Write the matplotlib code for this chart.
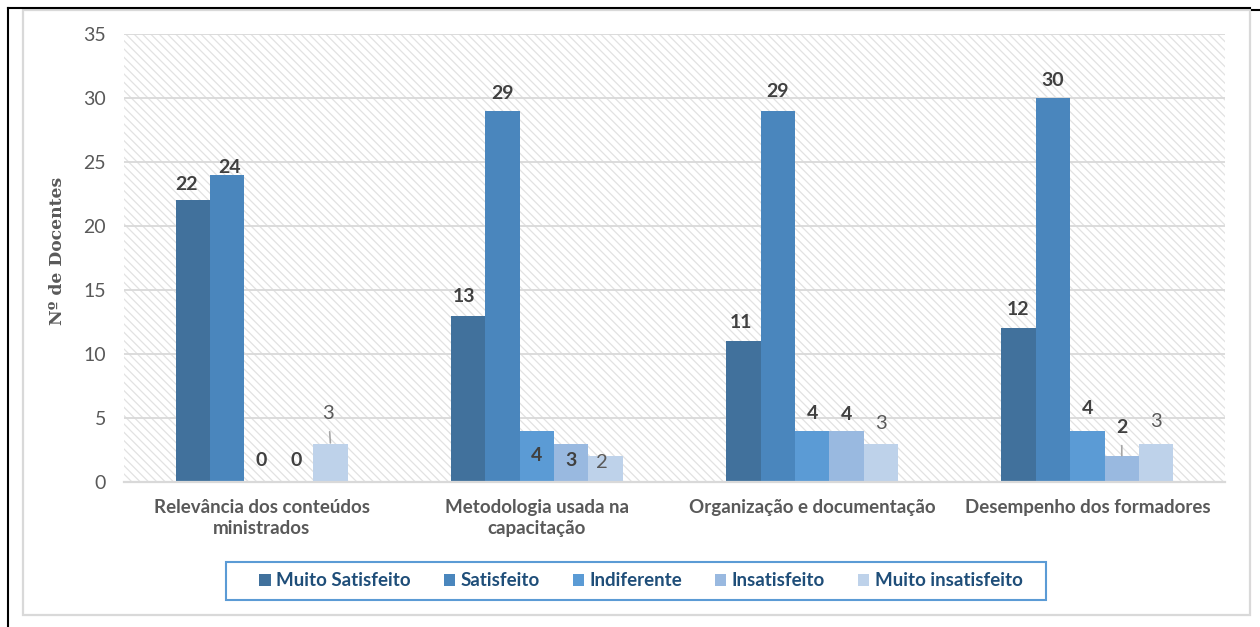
import matplotlib
matplotlib.use("Agg")
import matplotlib.pyplot as plt
from matplotlib.lines import Line2D
from matplotlib.patches import Rectangle, Patch
import numpy as np

plt.rcParams['font.family'] = ['Lato', 'DejaVu Sans']
plt.rcParams['hatch.linewidth'] = 0.9

categories = ["Relevância dos conteúdos\nministrados",
              "Metodologia usada na\ncapacitação",
              "Organização e documentação",
              "Desempenho dos formadores"]
series_names = ["Muito Satisfeito", "Satisfeito", "Indiferente",
                "Insatisfeito", "Muito insatisfeito"]
muito_satisfeito = [22, 13, 11, 12]
satisfeito = [24, 29, 29, 30]
indiferente = [0, 4, 4, 4]
insatisfeito = [0, 3, 4, 2]
muito_insatisfeito = [3, 2, 3, 3]
series_values = [muito_satisfeito, satisfeito, indiferente, insatisfeito, muito_insatisfeito]
y_ticks = [0, 5, 10, 15, 20, 25, 30, 35]

colors = ["#41719C", "#4A86BD", "#5B9BD5", "#99B9E0", "#BED2EA"]

# label placement (pixel offsets from bar top: dx, dy)
label_offsets = {
    (0, 0): (-6, 16), (0, 1): (2, 7), (0, 2): (0, 21), (0, 3): (0, 21), (0, 4): (-2, 30),
    (1, 0): (-4, 19), (1, 1): (0, 17), (1, 2): (0, -25), (1, 3): (0, -17), (1, 4): (-4, -6),
    (2, 0): (-2, 19), (2, 1): (0, 19), (2, 2): (0, 17), (2, 3): (0, 16), (2, 4): (0, 20),
    (3, 0): (-1, 19), (3, 1): (0, 18), (3, 2): (0, 22), (3, 3): (0, 29), (3, 4): (0, 22),
}
leaders = {(0, 4), (3, 3)}

W, H = 1260, 627
fig = plt.figure(figsize=(W / 100, H / 100), dpi=100)

def fx(x):
    return x / W

def fy(y):
    return 1 - y / H

# frames
fig.add_artist(Rectangle((fx(23), fy(615)), fx(1250) - fx(23), fy(10) - fy(615),
                         transform=fig.transFigure, fill=False, edgecolor="#d9d9d9", linewidth=1.6))
fig.add_artist(Line2D([fx(8), fx(1250)], [fy(8), fy(8)], transform=fig.transFigure,
                      color="black", linewidth=1.5))
fig.add_artist(Line2D([fx(8), fx(8)], [fy(8), fy(627)], transform=fig.transFigure,
                      color="black", linewidth=1.5))
fig.add_artist(Line2D([fx(1252), fx(1260)], [fy(9.5), fy(9.5)], transform=fig.transFigure,
                      color="black", linewidth=1.5))
# legend box
fig.add_artist(Rectangle((fx(226), fy(600)), fx(1046) - fx(226), fy(562) - fy(600),
                         transform=fig.transFigure, fill=True, facecolor="white",
                         edgecolor="#5B9BD5", linewidth=1.5))

ax = fig.add_axes([fx(124), fy(482), fx(1225) - fx(124), fy(34) - fy(482)])
ax.patch.set_facecolor("white")
ax.patch.set_hatch("\\\\\\\\")
ax.patch.set_edgecolor("#e2e2e2")
ax.patch.set_linewidth(0)

n_series = len(series_names)
bw = 0.125
x = np.arange(len(categories))
for j, (name, vals, c) in enumerate(zip(series_names, series_values, colors)):
    xs = x + (j - (n_series - 1) / 2) * bw
    ax.bar(xs, vals, width=bw, color=c, label=name, zorder=3, linewidth=0)
    for i, v in enumerate(vals):
        dx, dy = label_offsets[(i, j)]
        bold = (j != 4)
        kw = dict(fontsize=14 if bold else 14.5, fontweight="bold" if bold else "normal",
                  color="#404040" if bold else "#595959", ha="center", va="center", zorder=5)
        if (i, j) in leaders:
            ax.annotate(str(v), xy=(xs[i], v), xytext=(dx * 0.72, dy * 0.72),
                        textcoords="offset points",
                        arrowprops=dict(arrowstyle="-", color="#a6a6a6", lw=1.2,
                                        shrinkA=5, shrinkB=0.5), **kw)
        else:
            ax.annotate(str(v), xy=(xs[i], v), xytext=(dx * 0.72, dy * 0.72),
                        textcoords="offset points", **kw)

ax.set_xlim(-0.5, len(categories) - 0.5)
ax.set_ylim(0, 35)
ax.set_yticks(y_ticks)
ax.set_xticks(x)
ax.set_xticklabels(categories, fontsize=13.5, fontweight="bold", color="#595959", linespacing=1.3)
ax.tick_params(axis="x", length=0, pad=12)
ax.tick_params(axis="y", length=0, pad=13, labelsize=14, labelcolor="#595959")
ax.yaxis.grid(True, color="#d9d9d9", linewidth=1.3, zorder=1)
ax.set_axisbelow(True)
for s in ["top", "left", "right"]:
    ax.spines[s].set_visible(False)
ax.spines["bottom"].set_color("#d9d9d9")
ax.spines["bottom"].set_linewidth(1.6)
ax.spines["bottom"].set_zorder(4)

fig.text(fx(58), fy(251), "Nº de Docentes", rotation=90, ha="center", va="center",
         fontsize=12.3, fontweight="bold", color="#595959", family="DejaVu Serif")

handles = [Patch(facecolor=c, edgecolor="none") for c in colors]
leg = fig.legend(handles, series_names, loc="center", bbox_to_anchor=(fx(641), fy(581)),
                 ncol=5, frameon=False,
                 handlelength=0.6, handleheight=0.6, handletextpad=0.3,
                 columnspacing=1.75, borderpad=0.3,
                 prop=dict(family="Lato", weight="bold", size=13.5))
for t in leg.get_texts():
    t.set_color("#1F4E79")

fig.savefig("out.png", dpi=100)
